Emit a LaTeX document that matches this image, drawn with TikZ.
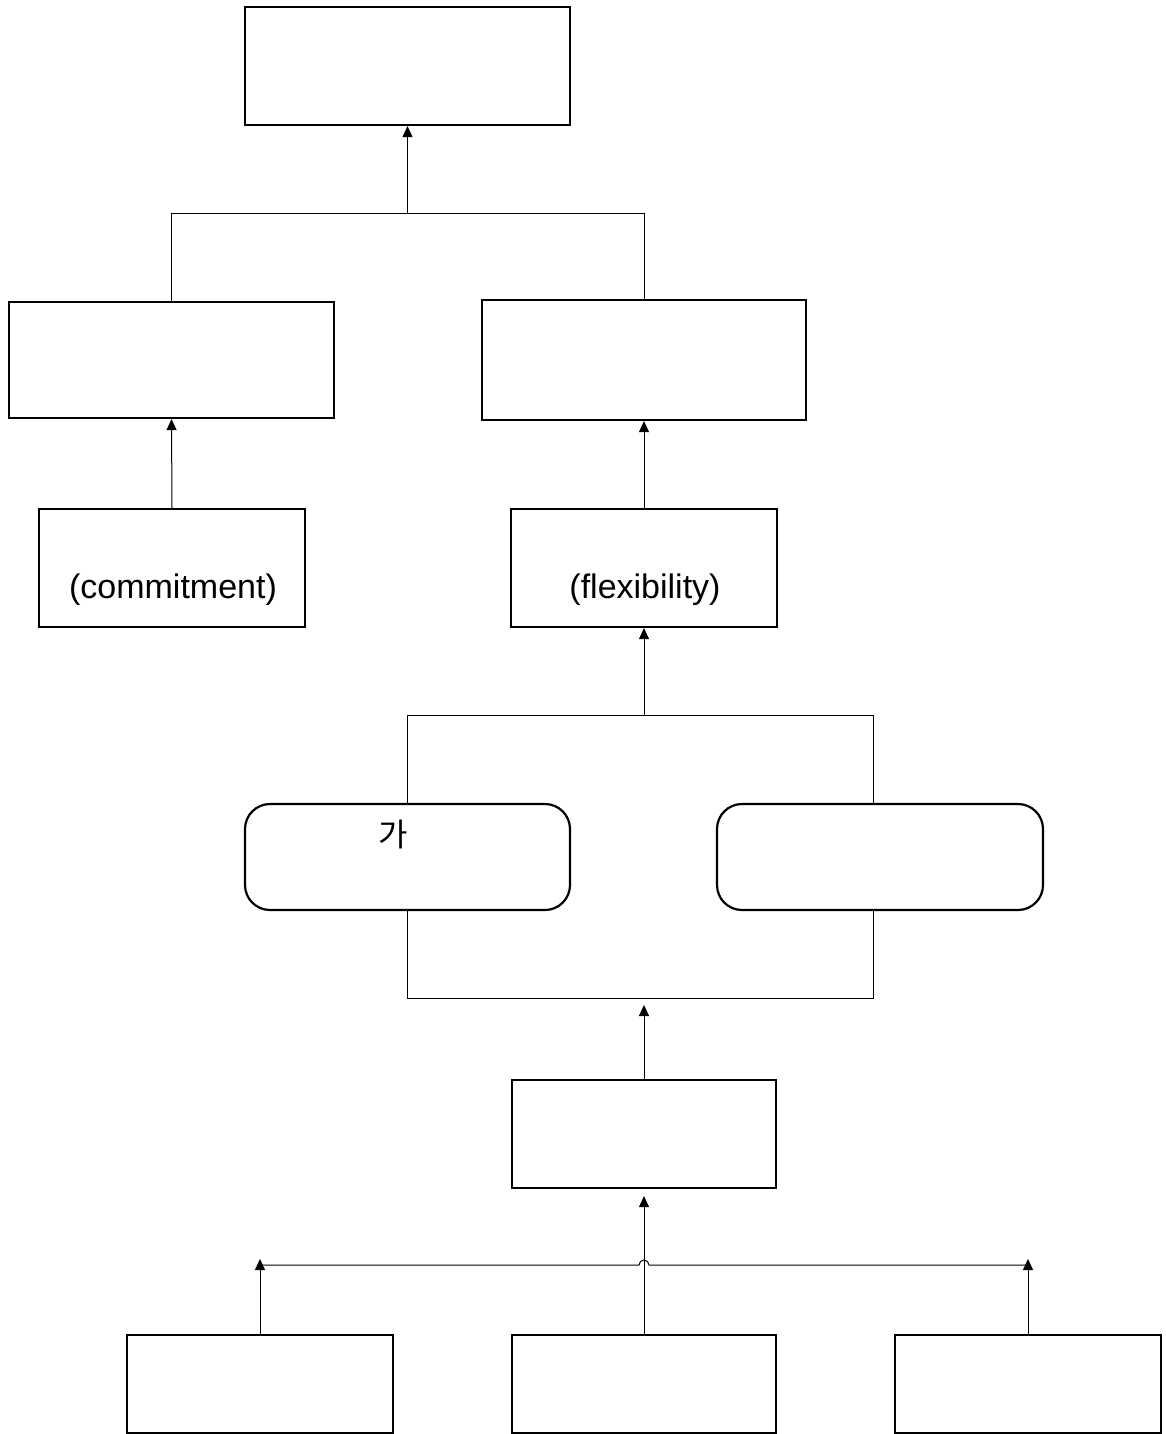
\documentclass[tikz,border=0pt]{standalone}
\usepackage{fontspec}
\setmainfont{Liberation Sans}
\newfontfamily\kofont{Noto Sans CJK KR}
\usetikzlibrary{arrows.meta}

\begin{document}
\begin{tikzpicture}[x=1pt, y=-1pt, >={Triangle[width=10pt,length=11pt]},
    box/.style={draw, line width=2.2pt, inner sep=0pt},
    rbox/.style={box, rounded corners=25pt},
    conn/.style={line width=1pt},
    lbl/.style={inner sep=0pt, font=\fontsize{34}{40}\selectfont}]
    \useasboundingbox (0,0) rectangle (1166,1434);

    % Nodes {goal, midL, midR, commit, flex, rndL, rndR, mid5, bot1..bot3}
    \node [box, minimum width=325pt, minimum height=118pt] (goal)   at (407.5,66)   {};
    \node [box, minimum width=325pt, minimum height=116pt] (midL)   at (171.5,360)  {};
    \node [box, minimum width=324pt, minimum height=120pt] (midR)   at (644,360)    {};
    \node [box, minimum width=266pt, minimum height=118pt] (commit) at (172,568)    {};
    \node [box, minimum width=266pt, minimum height=118pt] (flex)   at (644,568)    {};
    \node [rbox, minimum width=325pt, minimum height=106pt] (rndL)  at (407.5,857)  {};
    \node [rbox, minimum width=326pt, minimum height=106pt] (rndR)  at (880,857)    {};
    \node [box, minimum width=264pt, minimum height=108pt] (mid5)   at (644,1134)   {};
    \node [box, minimum width=266pt, minimum height=98pt]  (bot1)   at (260,1384)   {};
    \node [box, minimum width=264pt, minimum height=98pt]  (bot2)   at (644,1384)   {};
    \node [box, minimum width=266pt, minimum height=98pt]  (bot3)   at (1028,1384)  {};

    % Texts
    \node [lbl] (commitTxt) at (173,590) {(commitment)};
    \node [lbl] (flexTxt)   at (645,590) {(flexibility)};
    \node [lbl, font=\kofont\fontsize{32}{38}\selectfont] (gaTxt) at (393,834) {가};

    % Bus levels
    \coordinate (busA) at (0,213);
    \coordinate (busB) at (0,715);
    \coordinate (busC) at (0,998);
    \coordinate (tipC) at (644,1005);
    \coordinate (busD) at (0,1265);
    \coordinate (busTip) at (0,1259);
    \coordinate (hopA) at (639,1265);
    \coordinate (rndRtop) at ([xshift=-7pt]rndR.north);
    \coordinate (rndRbot) at ([xshift=-7pt]rndR.south);

    % Paths
    \draw [conn,->] (goal.south |- busA) -- (goal.south);
    \draw [conn] (midL.north) -- (midL.north |- busA) -- (midR.north |- busA) -- (midR.north);
    \draw [conn,->] (commit.north) -- (midL.south);
    \draw [conn,->] (flex.north) -- (midR.south);
    \draw [conn,->] (flex.south |- busB) -- (flex.south);
    \draw [conn] (rndL.north) -- (rndL.north |- busB) -- (rndRtop |- busB) -- (rndRtop);
    \draw [conn] (rndL.south) -- (rndL.south |- busC) -- (rndRbot |- busC) -- (rndRbot);
    \draw [conn,->] (mid5.north) -- (tipC);
    \draw [conn,->] (bot2.north) -- ([yshift=-7pt]mid5.south);
    \draw [conn,->] (bot1.north) -- (bot1.north |- busTip);
    \draw [conn,->] (bot3.north) -- (bot3.north |- busTip);
    \draw [conn] (bot1.north |- busD) -- (hopA)
        arc [start angle=180, end angle=0, radius=5pt] -- (bot3.north |- busD);
\end{tikzpicture}
\end{document}
